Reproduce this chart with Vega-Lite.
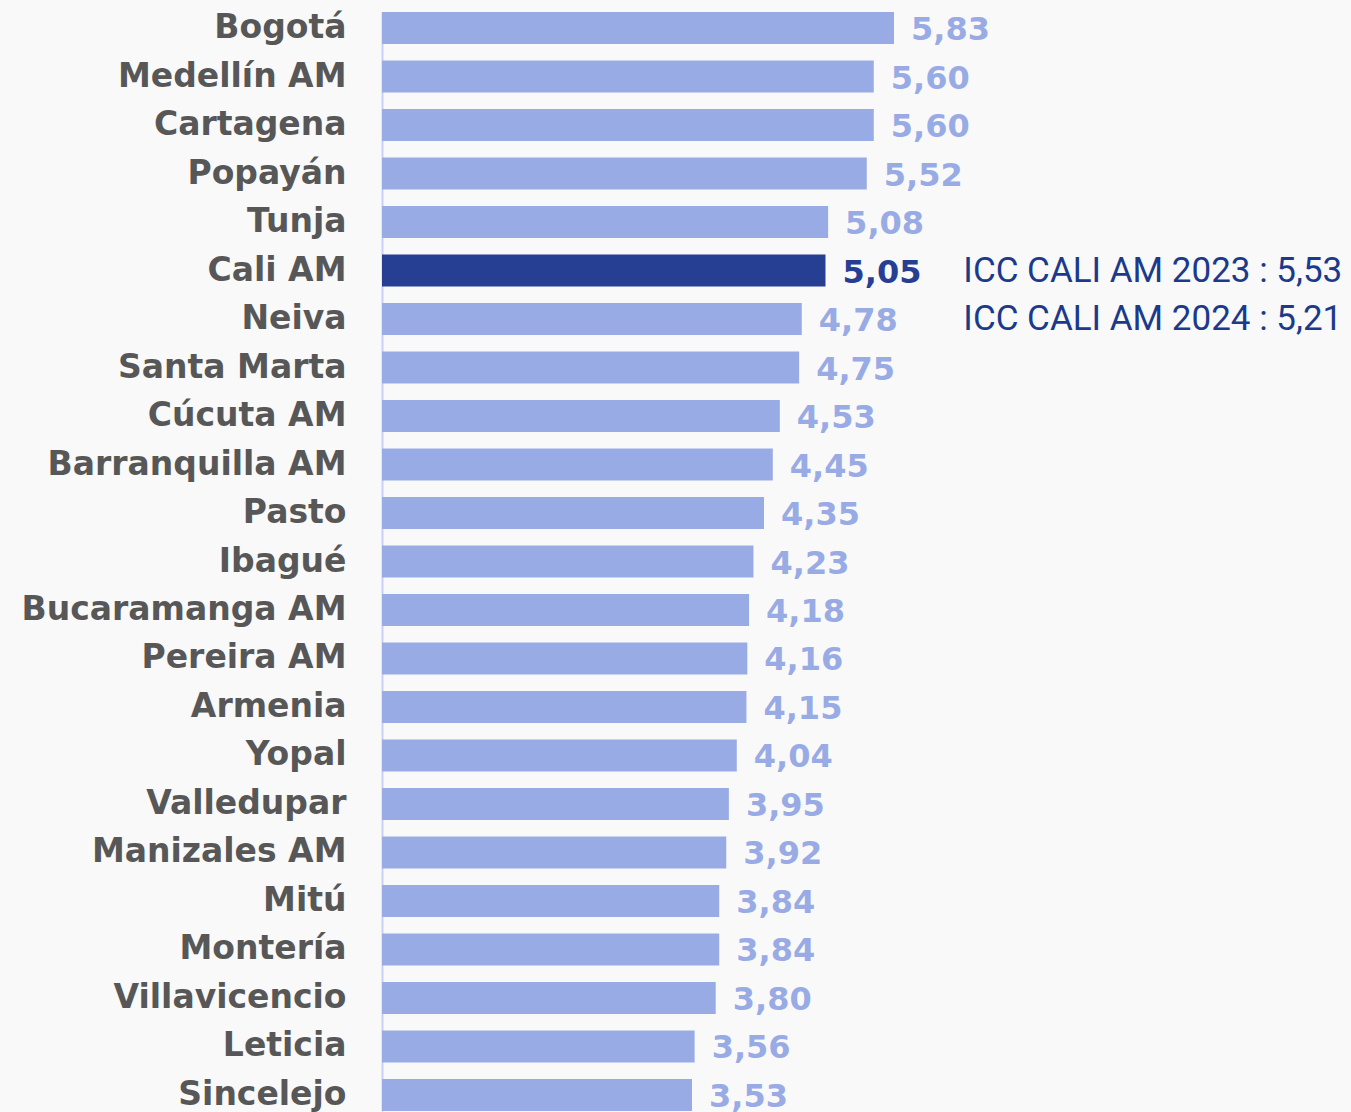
{
  "$schema": "https://vega.github.io/schema/vega-lite/v6.json",
  "width": 966,
  "height": 1099,
  "autosize": {"type": "none"},
  "padding": {"left": 382, "top": 12, "right": 3, "bottom": 1},
  "background": "#f9f9f9",
  "config": {"view": {"stroke": null}},
  "data": {
    "values": [
      {"city": "Bogotá", "v": 5.83, "lbl": "5,83", "hl": "no"},
      {"city": "Medellín AM", "v": 5.60, "lbl": "5,60", "hl": "no"},
      {"city": "Cartagena", "v": 5.60, "lbl": "5,60", "hl": "no"},
      {"city": "Popayán", "v": 5.52, "lbl": "5,52", "hl": "no"},
      {"city": "Tunja", "v": 5.08, "lbl": "5,08", "hl": "no"},
      {"city": "Cali AM", "v": 5.05, "lbl": "5,05", "hl": "yes", "note": "ICC CALI AM 2023 : 5,53"},
      {"city": "Neiva", "v": 4.78, "lbl": "4,78", "hl": "no", "note": "ICC CALI AM 2024 : 5,21"},
      {"city": "Santa Marta", "v": 4.75, "lbl": "4,75", "hl": "no"},
      {"city": "Cúcuta AM", "v": 4.53, "lbl": "4,53", "hl": "no"},
      {"city": "Barranquilla AM", "v": 4.45, "lbl": "4,45", "hl": "no"},
      {"city": "Pasto", "v": 4.35, "lbl": "4,35", "hl": "no"},
      {"city": "Ibagué", "v": 4.23, "lbl": "4,23", "hl": "no"},
      {"city": "Bucaramanga AM", "v": 4.18, "lbl": "4,18", "hl": "no"},
      {"city": "Pereira AM", "v": 4.16, "lbl": "4,16", "hl": "no"},
      {"city": "Armenia", "v": 4.15, "lbl": "4,15", "hl": "no"},
      {"city": "Yopal", "v": 4.04, "lbl": "4,04", "hl": "no"},
      {"city": "Valledupar", "v": 3.95, "lbl": "3,95", "hl": "no"},
      {"city": "Manizales AM", "v": 3.92, "lbl": "3,92", "hl": "no"},
      {"city": "Mitú", "v": 3.84, "lbl": "3,84", "hl": "no"},
      {"city": "Montería", "v": 3.84, "lbl": "3,84", "hl": "no"},
      {"city": "Villavicencio", "v": 3.80, "lbl": "3,80", "hl": "no"},
      {"city": "Leticia", "v": 3.56, "lbl": "3,56", "hl": "no"},
      {"city": "Sincelejo", "v": 3.53, "lbl": "3,53", "hl": "no"}
    ]
  },
  "encoding": {
    "y": {
      "field": "city", "type": "nominal", "sort": null, "title": null,
      "scale": {"paddingInner": 0.34, "paddingOuter": 0},
      "axis": {
        "ticks": false, "labelPadding": 36, "labelFont": "DejaVu Sans", "labelFontWeight": "bold",
        "labelFontSize": 33, "labelColor": "#575757", "domainColor": "#c9d1f7", "domainWidth": 2,
        "labelLimit": 400
      }
    }
  },
  "layer": [
    {
      "mark": {"type": "bar"},
      "encoding": {
        "x": {"field": "v", "type": "quantitative", "scale": {"domain": [0, 11], "nice": false}, "axis": null},
        "color": {"field": "hl", "type": "nominal", "scale": {"domain": ["no", "yes"], "range": ["#99abe5", "#273f93"]}, "legend": null}
      }
    },
    {
      "mark": {"type": "text", "align": "left", "baseline": "middle", "dx": 17, "dy": 2, "font": "DejaVu Sans", "fontWeight": "bold", "fontSize": 32},
      "encoding": {
        "x": {"field": "v", "type": "quantitative"},
        "text": {"field": "lbl"},
        "color": {"field": "hl", "type": "nominal", "scale": {"domain": ["no", "yes"], "range": ["#99abe5", "#273f93"]}, "legend": null}
      }
    },
    {
      "transform": [{"filter": "datum.note != null"}],
      "mark": {"type": "text", "align": "left", "baseline": "middle", "font": "Roboto", "fontSize": 35, "color": "#1c3a8c"},
      "encoding": {
        "x": {"datum": 6.62, "type": "quantitative"},
        "text": {"field": "note"}
      }
    }
  ]
}
